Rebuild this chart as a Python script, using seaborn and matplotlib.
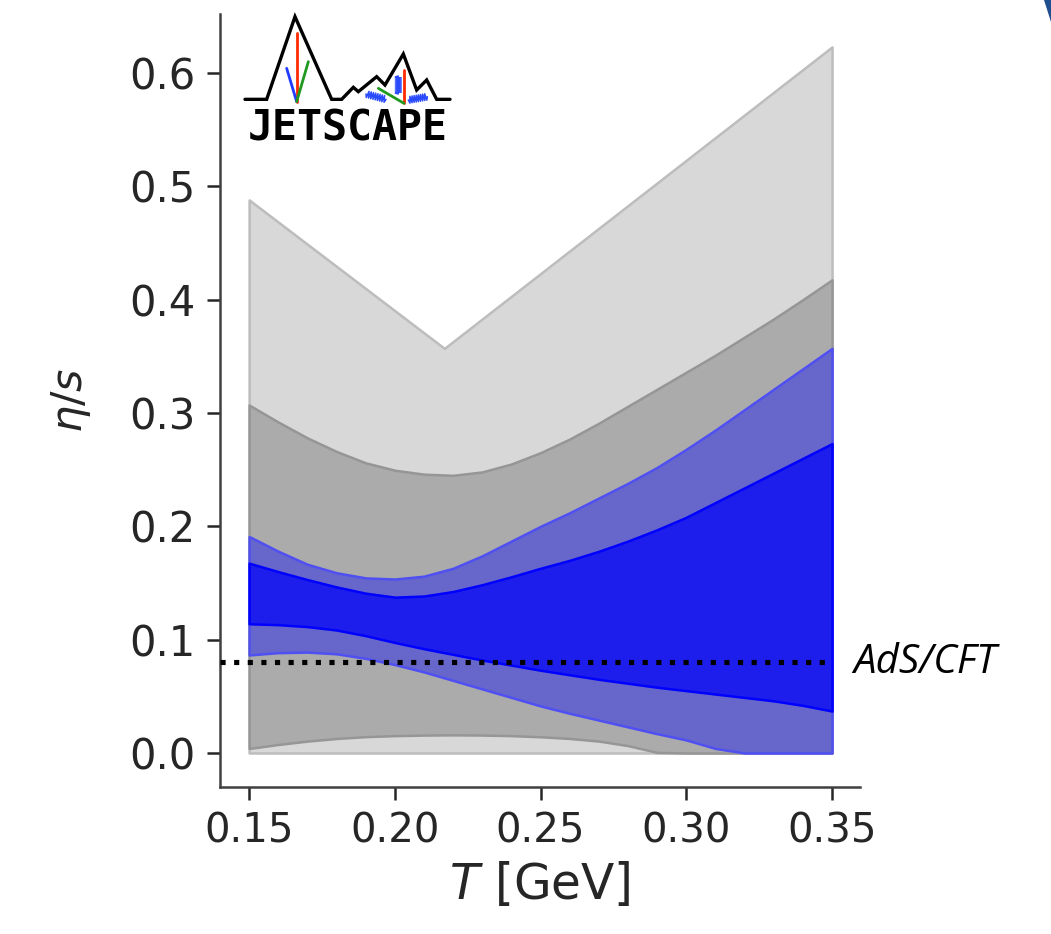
import matplotlib
matplotlib.use("Agg")
import matplotlib.pyplot as plt
import numpy as np
import pandas as pd
import seaborn as sns
from matplotlib.patches import Polygon

# temperature grid [GeV]
T = [0.15, 0.16, 0.17, 0.18, 0.19, 0.20, 0.21, 0.22, 0.23, 0.24, 0.25,
     0.26, 0.27, 0.28, 0.29, 0.30, 0.31, 0.32, 0.33, 0.34, 0.35]

# prior, 90% band (piecewise linear)
prior90_T = [0.15, 0.217, 0.35]
prior90_hi = [0.488, 0.357, 0.623]
prior90_lo = [0.0, 0.0, 0.0]

# prior, 60% band
prior60_hi = [0.307, 0.292, 0.278, 0.266, 0.256, 0.2495, 0.246, 0.245, 0.248, 0.255, 0.265,
              0.277, 0.291, 0.306, 0.321, 0.336, 0.351, 0.367, 0.383, 0.400, 0.4175]
prior60_lo = [0.004, 0.0075, 0.0105, 0.0128, 0.0144, 0.0153, 0.0158, 0.016, 0.0158, 0.0153, 0.0143,
              0.0128, 0.0105, 0.0065, 0.0005, 0.0, 0.0, 0.0, 0.0, 0.0, 0.0]

# posterior, 90% band
post90_hi = [0.191, 0.178, 0.1665, 0.159, 0.1545, 0.1535, 0.156, 0.163, 0.174, 0.187, 0.200,
             0.212, 0.225, 0.238, 0.252, 0.268, 0.285, 0.303, 0.321, 0.339, 0.357]
post90_lo = [0.0865, 0.0885, 0.089, 0.0875, 0.0835, 0.078, 0.0715, 0.064, 0.0565, 0.049, 0.0415,
             0.035, 0.029, 0.023, 0.017, 0.0115, 0.004, 0.0, 0.0, 0.0, 0.0]

# posterior, 60% band
post60_hi = [0.1675, 0.160, 0.153, 0.1465, 0.141, 0.1375, 0.1385, 0.1425, 0.1485, 0.1555, 0.163,
             0.170, 0.178, 0.187, 0.197, 0.208, 0.221, 0.234, 0.247, 0.260, 0.273]
post60_lo = [0.114, 0.1132, 0.1115, 0.1085, 0.1035, 0.0975, 0.092, 0.087, 0.082, 0.0775, 0.073,
             0.069, 0.065, 0.0615, 0.058, 0.055, 0.052, 0.049, 0.046, 0.042, 0.037]

ads_cft_T = [0.14, 0.35]
ads_cft = [0.08, 0.08]

x_ticks = [0.15, 0.20, 0.25, 0.30, 0.35]
y_ticks = [0.0, 0.1, 0.2, 0.3, 0.4, 0.5, 0.6]

sns.set_style("ticks")
plt.rcParams["font.family"] = ["DejaVu Sans"]

fig = plt.figure(figsize=(10.51, 9.34), dpi=100)
ax = fig.add_axes([0.2093, 0.1574, 0.609, 0.8276])

bands = [
    (prior90_T, prior90_lo, prior90_hi, "#d8d8d8", "#bdbdbd"),
    (T, prior60_lo, prior60_hi, "#ababab", "#969696"),
    (T, post90_lo, post90_hi, "#6767cb", "#4f4ff2"),
    (T, post60_lo, post60_hi, "#1e1eec", "#0000ff"),
]
for xs, lo, hi, fc, ec in bands:
    ax.fill_between(xs, lo, hi, facecolor=fc, edgecolor=ec, linewidth=1.8)

df_ads = pd.DataFrame({"T": ads_cft_T, "eta_s": ads_cft})
sns.lineplot(data=df_ads, x="T", y="eta_s", ax=ax, color="black",
             linestyle=":", linewidth=3.7, zorder=5)
ax.text(0.3572, 0.0795, "AdS/CFT", fontsize=29, fontstyle="italic",
        family=["Open Sans", "Lato", "DejaVu Sans"], va="center", ha="left",
        color="black")

ax.set_xlim(0.14, 0.3596)
ax.set_ylim(-0.030, 0.652)
ax.set_xticks(x_ticks)
ax.set_yticks(y_ticks)
ax.set_xlabel("$T$ [GeV]", fontsize=35, color=".15", labelpad=6)
ax.set_ylabel(r"$\eta/s$", fontsize=31, color=".15", labelpad=26)
ax.tick_params(labelsize=29, length=9.5, width=1.8, pad=8, colors=".15")
ax.tick_params(axis="y", labelsize=30)
for side in ["left", "bottom"]:
    ax.spines[side].set_linewidth(1.8)
    ax.spines[side].set_color(".25")
sns.despine(ax=ax)

# JETSCAPE logo
logo = fig.add_axes([230 / 1051, 1 - 160 / 934, 240 / 1051, 160 / 934])
logo.set_xlim(0, 720)
logo.set_ylim(480, 0)
logo.axis("off")
mountain_x = [45, 110, 195, 305, 335, 370, 385, 440, 465, 520, 560, 590, 620, 660]
mountain_y = [298, 298, 50, 298, 298, 262, 275, 230, 255, 162, 270, 240, 298, 298]
logo.plot(mountain_x, mountain_y, color="black", lw=2.4, solid_joinstyle="miter")
logo.plot([200, 200], [100, 305], color="#ff2a00", lw=2)
logo.plot([170, 200], [205, 305], color="#1f3cff", lw=2)
logo.plot([235, 200], [185, 305], color="#1f9a1f", lw=2)
logo.plot([522, 522], [210, 310], color="#ff2a00", lw=2)
logo.plot([445, 522], [265, 310], color="#1f9a1f", lw=2)


def spring(a, b, n=9, amp=10):
    a = np.array(a, float)
    b = np.array(b, float)
    d = b - a
    nrm = np.array([-d[1], d[0]]) / np.hypot(*d)
    pts = [a]
    for i in range(1, 2 * n):
        pts.append(a + d * i / (2 * n) + nrm * amp * (1 if i % 2 else -1))
    pts.append(b)
    pts = np.array(pts)
    logo.plot(pts[:, 0], pts[:, 1], color="#2a4bff", lw=1.1)


spring((408, 282), (468, 298))
spring((505, 228), (505, 282), amp=9)
spring((535, 300), (592, 290))
logo.text(352, 385, "JETSCAPE", fontsize=30, fontweight="bold",
          family="DejaVu Sans Mono", ha="center", va="center", color="black")

# slide corner
fig.patches.append(Polygon([[1044 / 1051, 1.0], [1.0, 1.0], [1.0, 1 - 22 / 934]],
                           closed=True, transform=fig.transFigure,
                           facecolor="#1f4f8f", edgecolor="none"))

fig.savefig("out.png", dpi=100)
